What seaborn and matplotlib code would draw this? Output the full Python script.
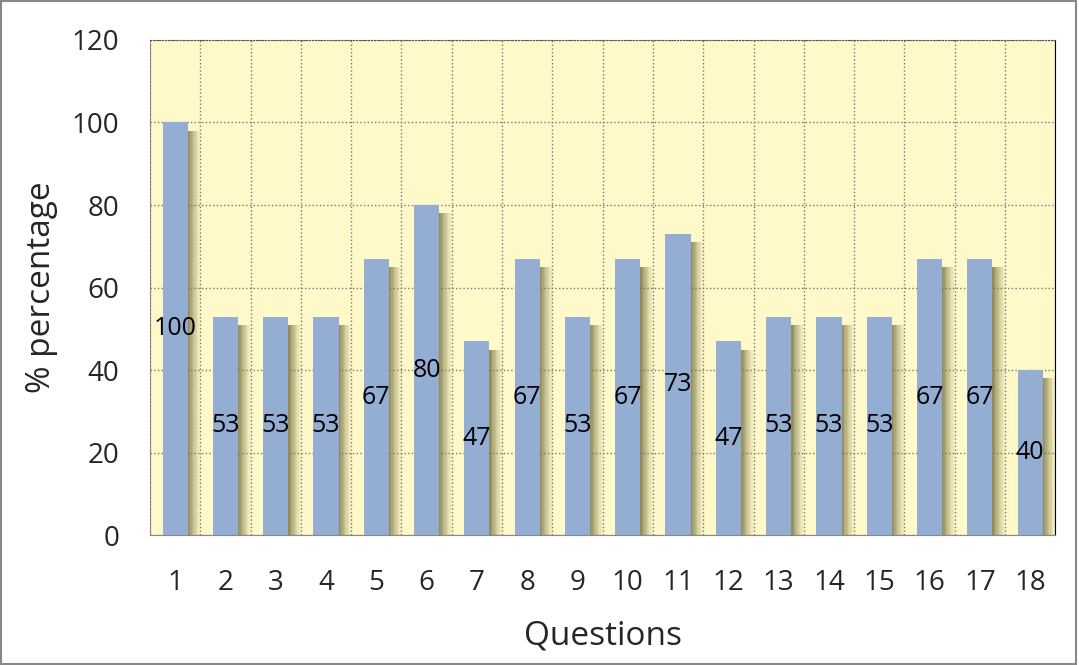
import numpy as np
import pandas as pd
import seaborn as sns
import matplotlib.pyplot as plt
from matplotlib.patches import Rectangle

# chart data
questions = [str(i) for i in range(1, 19)]
percentages = [100, 53, 53, 53, 67, 80, 47, 67, 53, 67, 73, 47, 53, 53, 53, 67, 67, 40]

df = pd.DataFrame({"Questions": questions, "pct": percentages})

sns.set_style("white")
plt.rcParams['font.family'] = ['Open Sans', 'DejaVu Sans']

fig = plt.figure(figsize=(10.79, 6.65), dpi=100)
ax = fig.add_axes([0.139, 0.195, 0.839, 0.745])
ax.set_facecolor("#FFF9C9")

# bar shadows (soft gradient to the right of each bar)
pos = np.arange(len(questions))
n_steps = 10
for k in range(n_steps):
    a = 0.85 * (1 - k / n_steps) ** 1.3
    ax.bar(pos + 0.25 + k * 0.026, np.array(percentages) - 2, width=0.026, bottom=0,
           align="edge", color="#7E784A", alpha=a, linewidth=0, zorder=2)

sns.barplot(data=df, x="Questions", y="pct", color="#93ADD3", saturation=1,
            width=0.5, ax=ax, zorder=3, linewidth=0)

ax.bar_label(ax.containers[-1], labels=[str(v) for v in percentages], label_type="center",
             fontsize=18, color="black", zorder=5)

ax.set_xlim(-0.5, len(questions) - 0.5)
ax.set_ylim(0, 120)
ax.set_yticks(range(0, 121, 20))
ax.set_xticks(pos)
ax.set_xticklabels(questions)
ax.set_xticks(np.arange(-0.5, len(questions)), minor=True)
ax.tick_params(axis="x", which="major", length=0, pad=24, labelsize=20)
ax.tick_params(axis="x", which="minor", length=8, width=1, color="#888888", direction="out")
ax.tick_params(axis="y", length=9, width=1, color="#888888", direction="out", labelsize=20, pad=13)
ax.grid(True, axis="y", which="major", linestyle=":", color="#777777", linewidth=1, zorder=1)
ax.grid(True, axis="x", which="minor", linestyle=":", color="#777777", linewidth=1, zorder=1)
ax.grid(False, axis="x", which="major")
ax.set_axisbelow(True)

for s in ["left", "bottom"]:
    ax.spines[s].set_color("#888888")
ax.spines["right"].set_color("black")
ax.spines["top"].set_color("#555555")
ax.spines["top"].set_linestyle(":")

ax.set_xlabel("Questions", fontsize=24, va="center")
ax.set_ylabel("% percentage", fontsize=24, va="center")
ax.xaxis.set_label_coords(0.5, -0.204)
ax.yaxis.set_label_coords(-0.12, 0.5)

fig.patches.append(Rectangle((0.001, 0.002), 0.996, 0.996, transform=fig.transFigure,
                             fill=False, edgecolor="#888888", linewidth=1.5))

fig.savefig("out.png", dpi=100)
